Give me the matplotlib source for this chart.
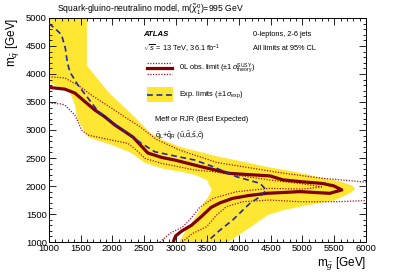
import matplotlib
matplotlib.use("Agg")
import matplotlib.pyplot as plt
from matplotlib.lines import Line2D
from matplotlib.patches import Rectangle
from matplotlib.ticker import MultipleLocator
import numpy as np

plt.rcParams['font.family'] = ['Liberation Sans', 'DejaVu Sans']
plt.rcParams['mathtext.fontset'] = 'custom'
plt.rcParams['mathtext.rm'] = 'Liberation Sans'
plt.rcParams['mathtext.it'] = 'Liberation Sans:italic'
plt.rcParams['mathtext.bf'] = 'Liberation Sans:bold'

# expected +-1 sigma band, outer edge and inner edge (GeV)
band_outer_x = [1000, 1600, 1600, 1800, 1960, 2200, 2400, 2600, 2800, 3066, 3650, 4000, 4450, 4900, 5250,
                5600, 5780, 5830, 5750, 5500, 5000, 4700, 4450, 4200, 4000, 3830]
band_outer_y = [5000, 5000, 4150, 3870, 3650, 3400, 3180, 2950, 2820, 2700, 2530, 2450, 2340, 2250, 2160,
                2080, 2010, 1950, 1870, 1740, 1640, 1570, 1480, 1280, 1130, 1000]
band_inner_x = [1000, 1330, 1410, 1450, 1520, 1620, 2000, 2300, 2520, 2800, 3100, 3300, 3490, 3570, 3510,
                3420, 3300, 3160, 3050]
band_inner_y = [3850, 3680, 3450, 3200, 3060, 2870, 2730, 2590, 2410, 2310, 2250, 2200, 2110, 1930, 1800,
                1650, 1420, 1200, 1000]

# observed limit
obs_x = [1000, 1250, 1410, 1570, 1725, 1880, 2040, 2200, 2330, 2470, 2560, 2780, 3000, 3400, 3850, 4490,
         4690, 5000, 5320, 5500, 5620, 5430, 4960, 4440, 4150, 3900, 3700, 3560, 3420, 3250, 3100, 3000, 2960]
obs_y = [3760, 3730, 3660, 3505, 3357, 3238, 3090, 2970, 2870, 2700, 2590, 2510, 2460, 2345, 2226, 2180,
         2110, 2075, 2045, 2000, 1930, 1870, 1900, 1870, 1830, 1780, 1700, 1620, 1470, 1300, 1200, 1110, 1000]

# observed +1 sigma theory (two pieces, leaves the frame on the right)
th_up_a_x = [1000, 1250, 1460, 1700, 1990, 2200, 2435, 2700, 3066, 3650, 4690, 5300, 6000, 6200]
th_up_a_y = [3950, 3930, 3800, 3600, 3390, 3230, 3060, 2830, 2640, 2420, 2230, 2140, 2070, 2050]
th_up_b_x = [6200, 6000, 5540, 4960, 4486, 4060, 3800, 3645, 3490, 3270, 3100]
th_up_b_y = [1745, 1740, 1720, 1720, 1750, 1720, 1631, 1482, 1274, 1155, 1000]

# observed -1 sigma theory
th_dn_x = [1000, 1200, 1250, 1410, 1460, 1515, 1615, 1990, 2250, 2380, 2515, 2780, 3300, 3590, 4486,
           5000, 5300, 5000, 4486, 3960, 3590, 3380, 3220, 3115, 2910, 2750]
th_dn_y = [3480, 3465, 3446, 3268, 3150, 3000, 2910, 2820, 2760, 2640, 2494, 2405, 2286, 2256, 2107,
           2040, 1985, 1945, 1958, 1899, 1780, 1620, 1393, 1274, 1155, 1000]

# expected limit
exp_x = [1000, 1095, 1200, 1260, 1290, 1330, 1460, 1620, 1780, 1990, 2200, 2330, 2460, 2670, 3035, 3300,
         3590, 3960, 4330, 4430, 4330, 4170, 4060, 3900, 3700, 3490]
exp_y = [4900, 4815, 4700, 4460, 4220, 4040, 3800, 3565, 3327, 3150, 2970, 2870, 2762, 2612, 2524, 2464,
         2345, 2166, 2048, 1929, 1810, 1690, 1570, 1393, 1214, 1000]

yellow = '#ffe633'
darkred = '#7f0000'
dotred = '#a3141e'
blue = '#1c2ba8'

fig = plt.figure(figsize=(4.07, 2.76), dpi=100)
ax = fig.add_axes([0.120, 0.123, 0.779, 0.812])

band_x = band_outer_x + band_inner_x[::-1]
band_y = band_outer_y + band_inner_y[::-1]
ax.fill(band_x, band_y, color=yellow, lw=0, zorder=1)

ax.plot(th_up_a_x, th_up_a_y, ls=(0, (1, 1.2)), color=dotred, lw=0.9, zorder=2)
ax.plot(th_up_b_x, th_up_b_y, ls=(0, (1, 1.2)), color=dotred, lw=0.9, zorder=2)
ax.plot(th_dn_x, th_dn_y, ls=(0, (1, 1.2)), color=dotred, lw=0.9, zorder=2)
ax.plot(obs_x, obs_y, color=darkred, lw=2.3, zorder=3, solid_capstyle='butt')
ax.plot(exp_x, exp_y, color=blue, lw=1.2, ls=(0, (3.5, 2.2)), zorder=4)

ax.set_xlim(1000, 6000)
ax.set_ylim(1000, 5000)
ax.xaxis.set_major_locator(MultipleLocator(500))
ax.xaxis.set_minor_locator(MultipleLocator(100))
ax.yaxis.set_major_locator(MultipleLocator(500))
ax.yaxis.set_minor_locator(MultipleLocator(100))
ax.tick_params(which='both', direction='in', top=True, right=True, labelsize=6.7, width=0.6, pad=1.5)
ax.tick_params(which='major', length=5)
ax.tick_params(which='minor', length=2.5)
for s in ax.spines.values():
    s.set_linewidth(0.7)

ax.set_xlabel(r'm$_{\tilde{g}}$ [GeV]', fontsize=8.5, loc='right', labelpad=2)
ax.set_ylabel(r'm$_{\tilde{q}}$ [GeV]', fontsize=8.5, loc='top', labelpad=3)

fig.text(0.14, 0.963, r'Squark-gluino-neutralino model, m($\tilde{\chi}^0_1$)=995 GeV',
         fontsize=6.2, va='center', ha='left')

tr = ax.transAxes
ax.text(0.297, 0.925, 'ATLAS', fontsize=5.6, fontweight='bold', style='italic', transform=tr, va='center')
ax.text(0.644, 0.925, '0-leptons, 2-6 jets', fontsize=5.3, transform=tr, va='center')
ax.text(0.297, 0.862, r'$\sqrt{s}$ = 13 TeV, 36.1 fb$^{-1}$', fontsize=5.3, transform=tr, va='center')
ax.text(0.644, 0.862, 'All limits at 95% CL', fontsize=5.3, transform=tr, va='center')

# legend samples
ax.add_line(Line2D([0.309, 0.39], [0.777, 0.777], color=darkred, lw=2.3, transform=tr, zorder=5))
ax.add_line(Line2D([0.309, 0.39], [0.800, 0.800], color=dotred, lw=0.9, ls=(0, (1, 1.2)), transform=tr, zorder=5))
ax.add_line(Line2D([0.309, 0.39], [0.750, 0.750], color=dotred, lw=0.9, ls=(0, (1, 1.2)), transform=tr, zorder=5))
ax.text(0.41, 0.777, r'0L obs. limit ($\pm1\,\sigma^{\mathrm{SUSY}}_{\mathrm{theory}}$)', fontsize=5.3,
        transform=tr, va='center')
ax.add_patch(Rectangle((0.309, 0.625), 0.082, 0.067, color=yellow, lw=0, transform=tr, zorder=5))
ax.add_line(Line2D([0.309, 0.39], [0.658, 0.658], color=blue, lw=1.2, ls=(0, (3.5, 2.2)), transform=tr, zorder=6))
ax.text(0.41, 0.658, r'Exp. limits ($\pm1\,\sigma_{\mathrm{exp}}$)', fontsize=5.3, transform=tr, va='center')

ax.text(0.334, 0.549, 'Meff or RJR (Best Expected)', fontsize=5.3, transform=tr, va='center')
ax.text(0.334, 0.476, r'$\tilde{\mathrm{q}}_{\mathrm{L}}$+$\tilde{\mathrm{q}}_{\mathrm{R}}$ '
        r'($\tilde{\mathrm{u}}$,$\tilde{\mathrm{d}}$,$\tilde{\mathrm{s}}$,$\tilde{\mathrm{c}}$)',
        fontsize=5.3, transform=tr, va='center')

fig.savefig('out.png', dpi=100)
